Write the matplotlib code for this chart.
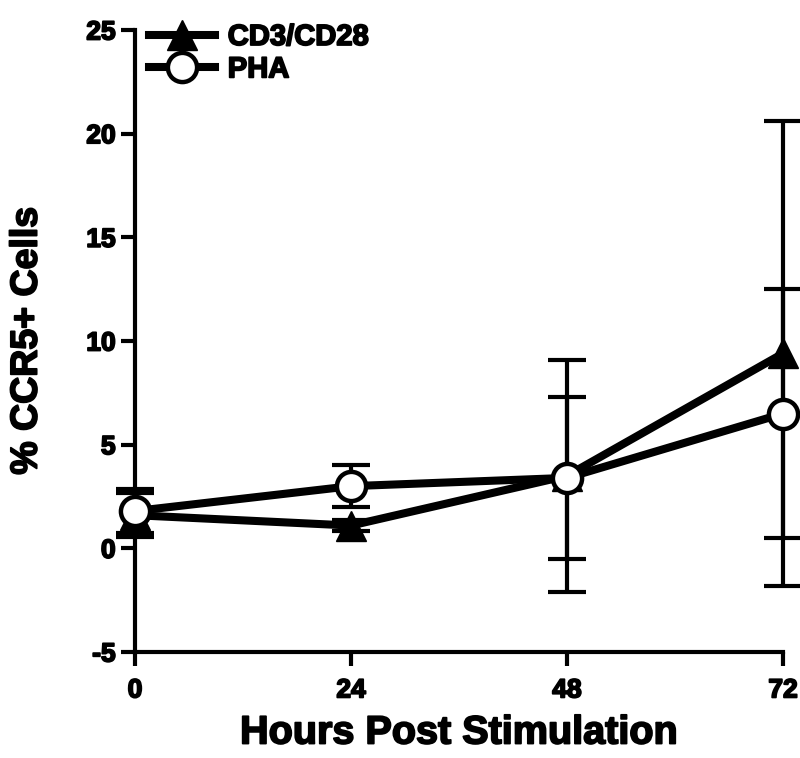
import numpy as np
import matplotlib
matplotlib.use('Agg')
import matplotlib.pyplot as plt
import matplotlib.patheffects as pe

hours = [0, 24, 48, 72]

cd3_mean = [1.6, 1.1, 3.5, 9.4]
cd3_err = [1.05, 0.25, 5.6, 11.2]

pha_mean = [1.8, 3.0, 3.4, 6.5]
pha_err = [1.05, 1.0, 3.9, 6.0]

y_ticks = [-5, 0, 5, 10, 15, 20, 25]
x_ticks = [0, 24, 48, 72]

plt.rcParams['font.family'] = ['Liberation Sans', 'DejaVu Sans']
plt.rcParams['font.weight'] = 'bold'

# the original print uses a very heavy face, so thicken the bold one a bit
heavy = [pe.withStroke(linewidth=1.3, foreground='black')]

fig = plt.figure(figsize=(8, 7.58), dpi=100)
ax = fig.add_axes([0.16875, 0.1398, 0.81, 0.8206])

# error bars sit behind the markers
for m, e in [(cd3_mean, cd3_err), (pha_mean, pha_err)]:
    eb = ax.errorbar(hours, m, yerr=e, fmt='none', ecolor='black',
                     elinewidth=3, capsize=14, capthick=3, zorder=1)
    for c in eb.lines[1]:
        c.set_clip_on(False)
    for c in eb.lines[2]:
        c.set_clip_on(False)

ax.plot(hours, cd3_mean, color='black', lw=5.8, marker='^', markersize=22,
        markerfacecolor='black', markeredgecolor='black', label='CD3/CD28',
        zorder=3, clip_on=False)
ax.plot(hours, pha_mean, color='black', lw=5.8, marker='o', markersize=21,
        markerfacecolor='white', markeredgecolor='black', markeredgewidth=3.2,
        label='PHA', zorder=4, clip_on=False)

ax.set_xlim(0, 72)
ax.set_ylim(-5, 25)
ax.set_xticks(x_ticks)
ax.set_yticks(y_ticks)
ax.set_xticklabels([str(t) for t in x_ticks], fontsize=19, fontweight='bold')
ax.set_yticklabels([str(t) for t in y_ticks], fontsize=19, fontweight='bold')
ax.tick_params(axis='both', direction='out', length=10, width=3)
ax.tick_params(axis='y', pad=4)
ax.tick_params(axis='x', pad=9)
for t in ax.get_xticklabels() + ax.get_yticklabels():
    t.set_path_effects(heavy)

for s in ['top', 'right']:
    ax.spines[s].set_visible(False)
for s in ['left', 'bottom']:
    ax.spines[s].set_linewidth(3)

ax.set_xlabel('Hours Post Stimulation', fontsize=28.5, fontweight='bold', labelpad=8,
              path_effects=heavy)
ax.set_ylabel('% CCR5+ Cells', fontsize=27, fontweight='bold', labelpad=30,
              path_effects=heavy)

leg = ax.legend(loc='upper left', bbox_to_anchor=(149 / 800, 1 - 23 / 758),
                bbox_transform=fig.transFigure, frameon=False, fontsize=21,
                handlelength=2.25, handletextpad=0.45, labelspacing=0.15,
                borderaxespad=0, borderpad=0)
for t in leg.get_texts():
    t.set_fontweight('bold')
    t.set_path_effects(heavy)

fig.savefig('out.png', dpi=100)
